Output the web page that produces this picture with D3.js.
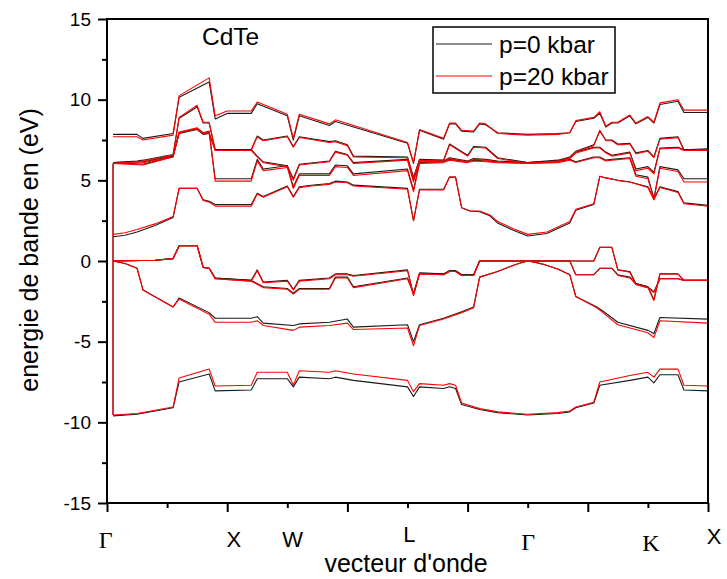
<!DOCTYPE html>
<html>
<head>
<meta charset="utf-8">
<script src="https://cdn.jsdelivr.net/npm/d3@7"></script>
<style>
	body { margin: 0; background: #fff; }
	svg text { font-family: Arial, "Liberation Sans", sans-serif; fill: #000; }
</style>
</head>
<body>
<div id="chart"></div>
<script>

//k index along the path (0..100), energies in eV, p=0 and p=20 kbar
const kBand1 = [1, 5, 11, 12, 17, 18, 24, 25, 30, 31, 32, 37, 38, 41, 50, 51, 52, 56, 57, 58, 59, 62, 65, 70, 75, 77, 78, 81, 82, 87, 90, 91, 92, 95, 96, 100]
const band1P0 = [-9.6, -9.5, -9.1, -7.5, -7.0, -8.05, -8.0, -7.3, -7.3, -7.8, -7.2, -7.3, -7.2, -7.4, -7.8, -8.4, -7.8, -7.9, -7.8, -7.9, -8.9, -9.2, -9.4, -9.55, -9.45, -9.35, -9.1, -8.8, -7.7, -7.4, -7.2, -7.55, -7.05, -7.05, -8.0, -8.05]
const band1P20 = [-9.55, -9.45, -9.05, -7.25, -6.7, -7.75, -7.7, -6.9, -6.9, -7.7, -6.8, -6.9, -6.8, -7.0, -7.4, -8.1, -7.6, -7.7, -7.6, -7.7, -8.8, -9.15, -9.35, -9.5, -9.4, -9.3, -9.05, -8.75, -7.5, -7.1, -6.9, -7.2, -6.7, -6.7, -7.7, -7.75]

const kBand2 = [1, 3, 5, 6, 11, 12, 17, 18, 24, 25, 26, 31, 32, 37, 40, 41, 50, 51, 52, 56, 59, 61, 62, 65, 67, 68.5, 70, 71.5, 73, 75, 77, 78, 81.5, 82.5, 85, 90, 91, 92, 100]
const band2P0 = [0, -0.15, -0.45, -1.8, -2.85, -2.3, -3.2, -3.55, -3.55, -3.45, -3.85, -4.0, -3.9, -3.8, -3.6, -4.1, -3.95, -5.0, -3.95, -3.55, -3.15, -2.85, -1.0, -0.65, -0.35, -0.15, 0, -0.1, -0.25, -0.5, -0.85, -2.2, -2.85, -3.1, -3.8, -4.3, -4.5, -3.5, -3.6]
const band2P20 = [0, -0.15, -0.45, -1.8, -2.85, -2.35, -3.3, -3.8, -3.8, -3.7, -4.0, -4.3, -4.1, -4.0, -3.85, -4.25, -4.15, -5.25, -4.0, -3.6, -3.2, -2.9, -1.0, -0.65, -0.35, -0.15, 0, -0.1, -0.25, -0.5, -0.85, -2.2, -2.9, -3.2, -3.95, -4.45, -4.75, -3.7, -3.85]

const kBand3 = [1, 8, 11, 12, 15, 16, 17, 18, 24, 26, 30, 31, 32, 37, 38, 40, 41, 50, 51, 52, 56, 57, 58, 59, 61, 62, 77, 78, 81, 82, 84, 85, 87, 88, 90, 91, 92, 95, 96, 100]
const band3P0 = [0, 0.05, 0.15, 0.95, 0.95, -0.4, -0.45, -1.05, -1.2, -1.6, -1.7, -2.0, -1.7, -1.7, -1.0, -1.0, -1.6, -1.05, -2.0, -0.75, -0.8, -0.6, -0.6, -0.85, -0.85, 0.0, 0.0, -0.85, -0.85, -0.45, -0.45, -0.85, -1.0, -1.4, -1.6, -1.9, -1.1, -1.1, -1.2, -1.2]
const band3P20 = [0, 0.05, 0.15, 0.95, 0.95, -0.4, -0.45, -1.1, -1.25, -1.65, -1.75, -2.05, -1.75, -1.75, -1.05, -1.05, -1.65, -1.1, -2.05, -0.8, -0.85, -0.65, -0.65, -0.9, -0.9, 0.0, 0.0, -0.85, -0.85, -0.45, -0.45, -0.9, -1.05, -1.45, -1.65, -1.95, -1.1, -1.1, -1.2, -1.2]

const kBand4 = [1, 8, 11, 12, 15, 16, 17, 18, 24, 25, 26, 30, 31, 32, 37, 38, 40, 41, 50, 51, 52, 56, 57, 58, 59, 61, 62, 81, 82, 84, 85, 87, 88, 90, 91, 92, 95, 96, 100]
const band4P0 = [0, 0.05, 0.15, 0.95, 0.95, -0.4, -0.45, -1.05, -1.2, -0.55, -1.3, -1.2, -1.75, -1.2, -1.05, -0.8, -0.8, -0.9, -0.55, -2.1, -0.75, -0.8, -0.6, -0.6, -0.85, -0.85, 0.0, 0.0, 0.85, 0.85, -0.55, -0.65, -1.4, -1.6, -2.4, -0.8, -0.8, -1.2, -1.2]
const band4P20 = [0, 0.05, 0.15, 0.95, 0.95, -0.4, -0.45, -1.1, -1.25, -0.6, -1.35, -1.25, -1.8, -1.25, -1.1, -0.85, -0.85, -0.95, -0.6, -2.15, -0.8, -0.85, -0.65, -0.65, -0.9, -0.9, 0.0, 0.0, 0.85, 0.85, -0.55, -0.7, -1.45, -1.65, -2.45, -0.8, -0.8, -1.2, -1.2]

const kBand5 = [1, 3, 5, 8, 11, 12, 15, 16, 17, 18, 24, 25, 26, 30, 31, 32, 34, 37, 38, 40, 41, 50, 51, 52, 56, 57, 58, 59, 60.4, 62, 63.7, 65, 67.6, 70, 73.2, 77, 78, 81, 82, 83, 85, 87, 90, 91, 92, 95, 96, 100]
const band5P0 = [1.5, 1.6, 1.8, 2.2, 2.7, 4.5, 4.5, 3.8, 3.7, 3.5, 3.5, 4.2, 4.0, 4.65, 4.0, 4.6, 4.7, 4.8, 4.95, 4.9, 4.7, 4.5, 2.5, 4.45, 4.45, 5.2, 5.2, 3.3, 3.1, 3.05, 2.8, 2.35, 1.9, 1.55, 1.7, 2.35, 3.15, 3.5, 5.25, 5.15, 5.0, 4.9, 4.6, 3.85, 4.6, 4.3, 3.6, 3.45]
const band5P20 = [1.65, 1.75, 1.95, 2.3, 2.75, 4.5, 4.5, 3.75, 3.65, 3.4, 3.4, 4.15, 3.95, 4.6, 3.95, 4.55, 4.65, 4.75, 4.9, 4.85, 4.65, 4.45, 2.5, 4.4, 4.4, 5.2, 5.2, 3.3, 3.1, 3.1, 2.85, 2.45, 2.0, 1.65, 1.8, 2.45, 3.2, 3.55, 5.25, 5.15, 5.0, 4.9, 4.55, 3.8, 4.55, 4.25, 3.55, 3.4]

const kBand6 = [1, 6, 11, 12, 15, 16, 17, 18, 24, 25, 26, 30, 31, 32, 37, 38, 40, 41, 50, 51, 52, 56, 57, 60, 61, 63, 65, 70, 75, 77, 78, 81, 82, 83, 84, 87, 88, 90, 91, 92, 95, 96, 100]
const band6P0 = [6.1, 6.0, 6.5, 7.95, 8.2, 7.9, 8.0, 5.1, 5.1, 6.3, 5.7, 5.9, 4.6, 5.4, 5.4, 5.95, 5.9, 5.4, 5.7, 4.4, 6.1, 6.15, 6.3, 6.15, 6.25, 6.2, 6.15, 6.1, 6.15, 6.3, 6.15, 6.45, 6.45, 6.25, 6.3, 6.4, 5.35, 5.2, 3.9, 5.85, 5.65, 5.1, 5.1]
const band6P20 = [6.05, 5.95, 6.45, 8.0, 8.25, 7.95, 8.05, 4.95, 4.95, 6.2, 5.6, 5.8, 4.5, 5.3, 5.3, 5.85, 5.8, 5.3, 5.6, 4.3, 6.05, 6.1, 6.25, 6.1, 6.2, 6.15, 6.1, 6.05, 6.1, 6.25, 6.1, 6.4, 6.4, 6.2, 6.25, 6.35, 5.25, 5.1, 3.8, 5.75, 5.55, 4.9, 4.9]

const kBand7 = [1, 6, 11, 12, 15, 16, 17, 18, 24, 25, 26, 30, 31, 32, 37, 38, 40, 41, 50, 51, 52, 56, 57, 60, 61, 63, 65, 70, 75, 77, 78, 81, 82, 83, 84, 87, 88, 90, 91, 92, 95, 96, 100]
const band7P0 = [6.1, 6.15, 6.5, 7.9, 8.15, 7.85, 7.9, 6.9, 6.9, 6.5, 6.15, 5.9, 5.1, 6.0, 6.2, 6.8, 6.6, 6.1, 6.3, 5.0, 6.2, 6.2, 6.4, 6.2, 6.35, 6.3, 6.2, 6.1, 6.2, 6.4, 6.75, 7.05, 7.05, 6.75, 6.55, 6.75, 5.7, 5.85, 5.5, 7.0, 7.05, 6.9, 6.9]
const band7P20 = [6.05, 6.1, 6.45, 7.95, 8.2, 7.9, 7.95, 6.85, 6.85, 6.45, 6.1, 5.85, 5.0, 5.95, 6.15, 6.75, 6.55, 6.05, 6.25, 4.9, 6.15, 6.15, 6.35, 6.15, 6.3, 6.25, 6.15, 6.05, 6.15, 6.35, 6.7, 7.0, 7.0, 6.7, 6.5, 6.7, 5.6, 5.75, 5.4, 6.95, 7.0, 6.85, 6.85]

const kBand8 = [1, 5, 6, 11, 12, 15, 16, 17, 18, 24, 25, 26, 30, 31, 32, 37, 38, 40, 41, 50, 51, 52, 56, 57, 60, 61, 63, 65, 70, 75, 77, 78, 81, 82, 83, 84, 85, 87, 88, 90, 91, 92, 95, 96, 100]
const band8P0 = [6.1, 6.2, 6.25, 6.6, 8.85, 9.55, 8.55, 8.55, 6.9, 6.9, 7.75, 7.5, 7.75, 7.1, 7.7, 7.4, 7.45, 7.2, 6.5, 6.45, 5.2, 6.3, 6.25, 7.25, 6.55, 7.1, 7.05, 6.4, 6.1, 6.25, 6.45, 6.8, 7.2, 8.05, 7.5, 7.5, 7.25, 7.3, 6.7, 6.85, 6.45, 7.6, 7.7, 6.9, 6.95]
const band8P20 = [6.05, 6.15, 6.2, 6.55, 8.9, 9.65, 8.6, 8.6, 6.85, 6.85, 7.7, 7.45, 7.7, 7.05, 7.65, 7.35, 7.4, 7.15, 6.45, 6.4, 5.1, 6.25, 6.2, 7.2, 6.5, 7.05, 7.0, 6.35, 6.05, 6.2, 6.4, 6.75, 7.15, 8.1, 7.45, 7.45, 7.2, 7.25, 6.65, 6.8, 6.4, 7.55, 7.65, 6.85, 6.9]

const kBand9 = [1, 5, 6, 11, 12, 17, 18, 20, 24, 25, 30, 31, 32, 37, 38, 50, 51, 52, 56, 57, 58, 59, 61, 62, 63, 65, 70, 75, 77, 78, 81, 82, 83, 84, 85, 87, 88, 90, 91, 92, 95, 96, 100]
const band9P0 = [7.85, 7.85, 7.6, 7.9, 10.15, 11.1, 8.8, 9.15, 9.15, 9.75, 9.0, 7.5, 9.0, 8.4, 8.65, 7.3, 6.05, 8.1, 7.55, 8.5, 8.5, 8.05, 8.0, 8.5, 8.45, 7.95, 7.85, 7.9, 7.95, 8.65, 8.85, 9.15, 8.3, 8.55, 8.55, 9.0, 8.5, 8.9, 8.55, 9.7, 9.9, 9.2, 9.2]
const band9P20 = [7.7, 7.7, 7.5, 7.8, 10.25, 11.35, 9.0, 9.3, 9.3, 9.85, 9.1, 7.6, 9.1, 8.5, 8.75, 7.35, 6.1, 8.15, 7.6, 8.55, 8.55, 8.1, 8.05, 8.55, 8.5, 7.9, 7.8, 7.85, 7.95, 8.7, 8.9, 9.25, 8.35, 8.6, 8.6, 9.05, 8.55, 8.95, 8.6, 9.8, 10.0, 9.35, 9.35]

//vertical drop drawn at the first k point
const edgeK = 1
const edgeE = [6.05, -9.55]

//axis stuff
const kDomain = [0, 100]
const eDomain = [-15, 15]
const yMajor = [-15, -10, -5, 0, 5, 10, 15]
const yMinor = [-12.5, -7.5, -2.5, 2.5, 7.5, 12.5]
const xMajor = [0, 20, 40, 60, 80, 100]
const xMinor = [10, 30, 50, 70, 90]
const symLabels = ['Γ', 'X', 'W', 'L', 'Γ', 'K', 'X']
const symK = [-0.2, 21.1, 30.9, 50.3, 70.1, 90.5, 101]
const seriesNames = ['p=0 kbar', 'p=20 kbar']

const w = 727, h = 579
const colors = ['#1a1a1a', '#ff0000']

let bands = [
	[kBand1, band1P0, band1P20],
	[kBand2, band2P0, band2P20],
	[kBand3, band3P0, band3P20],
	[kBand4, band4P0, band4P20],
	[kBand5, band5P0, band5P20],
	[kBand6, band6P0, band6P20],
	[kBand7, band7P0, band7P20],
	[kBand8, band8P0, band8P20],
	[kBand9, band9P0, band9P20]
]

let x = d3.scaleLinear().domain(kDomain).range([107, 708])
let y = d3.scaleLinear().domain(eDomain).range([503, 19])

let svg = d3.select('#chart').append('svg')
	.attr('width', w)
	.attr('height', h)

let line = d3.line()
	.x(d => x(d[0]))
	.y(d => y(d[1]))

//black series first, red on top
let plotG = svg.append('g')
	.attr('fill', 'none')
	.attr('stroke-width', 1.1)
	.attr('stroke-linejoin', 'round')

;[1, 2].forEach(s => {
	let g = plotG.append('g').attr('stroke', colors[s - 1])
	g.append('path').attr('d', line(edgeE.map(e => [edgeK, e])))
	bands.forEach(b => {
		g.append('path').attr('d', line(b[0].map((k, i) => [k, b[s][i]])))
	})
})

//y axis, major + minor
let yAxisG = svg.append('g').attr('transform', 'translate(107,0)')
yAxisG.call(d3.axisLeft(y).tickValues(yMajor).tickSize(9).tickPadding(7))
svg.append('g').attr('transform', 'translate(107,0)')
	.call(d3.axisLeft(y).tickValues(yMinor).tickSize(5).tickFormat(''))

//x axis, no numbers
svg.append('g').attr('transform', 'translate(0,503)')
	.call(d3.axisBottom(x).tickValues(xMajor).tickSize(9).tickFormat(''))
svg.append('g').attr('transform', 'translate(0,503)')
	.call(d3.axisBottom(x).tickValues(xMinor).tickSize(5).tickFormat(''))

svg.selectAll('.domain').remove()
svg.selectAll('.tick line').attr('stroke', '#000').attr('stroke-width', 2)
yAxisG.selectAll('.tick text')
	.style('font-size', '19px')
	.attr('fill', '#000')
	.text(d => d)

//frame
svg.append('rect')
	.attr('x', x(kDomain[0]))
	.attr('y', y(eDomain[1]))
	.attr('width', x(kDomain[1]) - x(kDomain[0]))
	.attr('height', y(eDomain[0]) - y(eDomain[1]))
	.attr('fill', 'none')
	.attr('stroke', '#000')
	.attr('stroke-width', 2)

//high symmetry point labels
let symDy = [548, 547, 547, 542, 550, 551, 544]
svg.selectAll('.symLabel')
	.data(symLabels)
	.join('text')
	.attr('class', 'symLabel')
	.attr('x', (d, i) => x(symK[i]))
	.attr('y', (d, i) => symDy[i])
	.attr('text-anchor', 'middle')
	.style('font-size', d => (d === 'Γ' || d === 'K') ? '24px' : '22px')
	.style('font-family', d => (d === 'Γ' || d === 'K') ? '"Liberation Serif", "Times New Roman", serif' : null)
	.text(d => d)

//axis titles
svg.append('text')
	.attr('x', 406)
	.attr('y', 572)
	.attr('text-anchor', 'middle')
	.style('font-size', '25px')
	.text("vecteur d'onde")

svg.append('text')
	.attr('transform', 'translate(38,250) rotate(-90)')
	.attr('text-anchor', 'middle')
	.style('font-size', '25px')
	.text('energie de bande en (eV)')

svg.append('text')
	.attr('x', 202)
	.attr('y', 45)
	.style('font-size', '24.5px')
	.text('CdTe')

//legend
let legendG = svg.append('g').attr('transform', 'translate(433,27)')
legendG.append('rect')
	.attr('width', 182)
	.attr('height', 66)
	.attr('fill', '#fff')
	.attr('stroke', '#000')
	.attr('stroke-width', 1.5)

let legendItems = legendG.selectAll('.legendItem')
	.data(seriesNames)
	.join('g')
	.attr('class', 'legendItem')
	.attr('transform', (d, i) => `translate(0,${17 + i * 32})`)

legendItems.append('line')
	.attr('x1', 3)
	.attr('x2', 59)
	.attr('stroke', (d, i) => colors[i])
	.attr('stroke-width', 1.1)

legendItems.append('text')
	.attr('x', 66)
	.attr('y', 9)
	.style('font-size', '24.5px')
	.text(d => d)

</script>
</body>
</html>
